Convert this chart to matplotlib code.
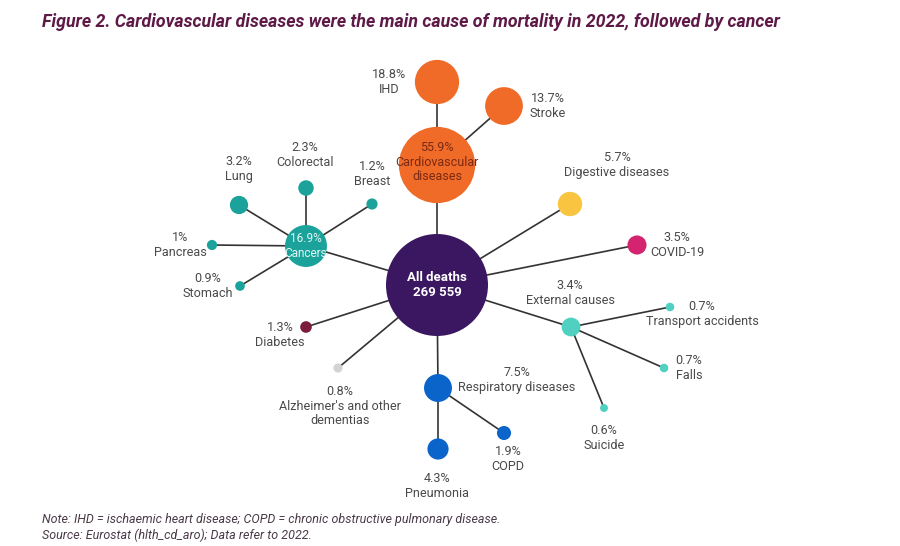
import matplotlib.pyplot as plt
from matplotlib.patches import Circle
import numpy as np

plt.rcParams['font.family'] = ['Roboto', 'DejaVu Sans']

# ---- data ----
names = ['All deaths', 'Cardiovascular\ndiseases', 'IHD', 'Stroke', 'Cancers', 'Lung', 'Colorectal',
         'Breast', 'Pancreas', 'Stomach', 'Diabetes', "Alzheimer's and other\ndementias",
         'Respiratory diseases', 'Pneumonia', 'COPD', 'Digestive diseases', 'COVID-19',
         'External causes', 'Transport accidents', 'Falls', 'Suicide']
shares = [100, 55.9, 18.8, 13.7, 16.9, 3.2, 2.3, 1.2, 1.0, 0.9, 1.3, 0.8,
          7.5, 4.3, 1.9, 5.7, 3.5, 3.4, 0.7, 0.7, 0.6]
share_labels = ['', '55.9%', '18.8%', '13.7%', '16.9%', '3.2%', '2.3%', '1.2%', '1%', '0.9%', '1.3%',
                '0.8%', '7.5%', '4.3%', '1.9%', '5.7%', '3.5%', '3.4%', '0.7%', '0.7%', '0.6%']
parents = [None, 0, 1, 1, 0, 4, 4, 4, 4, 4, 0, 0, 0, 12, 12, 0, 0, 0, 17, 17, 17]
total_deaths = '269 559'

# ---- layout (pixels) ----
node_xy = [(437, 285), (437, 165), (437, 82), (504, 106), (306, 246), (239, 205), (306, 188),
           (372, 204), (212, 245), (240, 286), (306, 327), (338, 368), (438, 388), (438, 449),
           (504, 433), (570, 204), (637, 245), (571, 327), (670, 307), (664, 368), (604, 408)]
label_xy = [None, None, (389, 82), (548, 106), None, (239, 169), (305, 155), (372, 174),
            (180, 245), (208, 286), (280, 335), (340, 406), (517, 380), (437, 486),
            (508, 459), (617, 165), (677, 245), (570, 293), (702, 314), (689, 368), (604, 438)]
colors = ['#3b1761', '#f06a28', '#f06a28', '#f06a28', '#1ba39b', '#1ba39b', '#1ba39b',
          '#1ba39b', '#1ba39b', '#1ba39b', '#7b1c3e', '#d3d3d3', '#0a64c9', '#0a64c9',
          '#0a64c9', '#f9c440', '#d4246f', '#4fd0c0', '#4fd0c0', '#4fd0c0', '#4fd0c0']

fig = plt.figure(figsize=(9, 5.46), dpi=100)
ax = fig.add_axes([0, 0, 1, 1])
ax.set_xlim(0, 900)
ax.set_ylim(546, 0)
ax.set_aspect('equal')
ax.axis('off')

k = 5.1  # radius scale, r = k * sqrt(share)
text_col = '#4a4a4a'

for i, p in enumerate(parents):
    if p is not None:
        ax.plot([node_xy[p][0], node_xy[i][0]], [node_xy[p][1], node_xy[i][1]],
                color='#333333', lw=1.2, zorder=1)

for i, (x, y) in enumerate(node_xy):
    r = k * np.sqrt(shares[i])
    ax.add_patch(Circle((x, y), r, facecolor=colors[i], edgecolor='none', zorder=2))
    if label_xy[i] is not None:
        lx, ly = label_xy[i]
        ax.text(lx, ly, f"{share_labels[i]}\n{names[i]}", ha='center', va='center',
                fontsize=9.1, color=text_col, linespacing=1.15, zorder=3)

# labels inside the big bubbles
ax.text(437, 285, f"All deaths\n{total_deaths}", ha='center', va='center', fontsize=9.5,
        fontweight='bold', color='white', linespacing=1.2, zorder=3)
ax.text(437, 162, f"55.9%\nCardiovascular\ndiseases", ha='center', va='center', fontsize=9,
        color='#7a2a12', linespacing=1.15, zorder=3)
ax.text(306, 246, "16.9%\nCancers", ha='center', va='center', fontsize=8.5,
        color='#e6f7f5', linespacing=1.15, zorder=3)

fig.text(42 / 900, 1 - 22 / 546, "Figure 2. Cardiovascular diseases were the main cause of mortality in 2022, followed by cancer",
         ha='left', va='center', fontsize=12.8, fontweight='bold', fontstyle='italic', color='#5e1a47')
fig.text(42 / 900, 1 - 519 / 546, "Note: IHD = ischaemic heart disease; COPD = chronic obstructive pulmonary disease.",
         ha='left', va='center', fontsize=9, fontstyle='italic', color='#4a3a48')
fig.text(42 / 900, 1 - 535 / 546, "Source: Eurostat (hlth_cd_aro); Data refer to 2022.",
         ha='left', va='center', fontsize=9, fontstyle='italic', color='#4a3a48')

fig.savefig('out.png', dpi=100, facecolor='white')
